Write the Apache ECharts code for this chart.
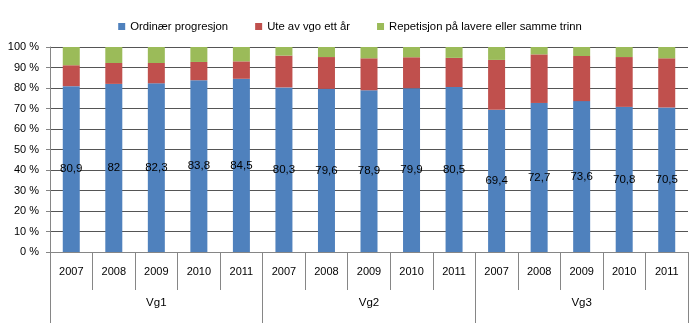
<!DOCTYPE html>
<html>
<head>
<meta charset="utf-8">
<script src="https://cdn.jsdelivr.net/npm/echarts@6/dist/echarts.min.js"></script>
<style>html,body{margin:0;padding:0;background:#fff;}#c{width:700px;height:324px;}</style>
</head>
<body>
<div id="c"></div>
<script>
var categories = ['2007','2008','2009','2010','2011','2007','2008','2009','2010','2011','2007','2008','2009','2010','2011'];
var groups = ['Vg1','Vg2','Vg3'];
var seriesNames = ['Ordinær progresjon','Ute av vgo ett år','Repetisjon på lavere eller samme trinn'];
var ordinaer = [80.9,82,82.3,83.8,84.5,80.3,79.6,78.9,79.9,80.5,69.4,72.7,73.6,70.8,70.5];
var ute = [10.2,10.2,9.9,8.9,8.5,15.5,15.5,15.6,15.1,14.2,24.3,23.7,22.0,24.3,24.0];
var repetisjon = [8.9,7.8,7.8,7.3,7.0,4.2,4.9,5.5,5.0,5.3,6.3,3.6,4.4,4.9,5.5];
var yTicks = [0,10,20,30,40,50,60,70,80,90,100];

var FONT = '"Liberation Sans Narrow", "Arial Narrow", "Liberation Sans", sans-serif';
var chart = echarts.init(document.getElementById('c'), null, {renderer:'canvas'});
var colors = ['#4F81BD','#C0504D','#9BBB59'];
chart.setOption({
  animation:false,
  color: colors,
  textStyle:{fontFamily:FONT},
  legend:{
    top:16, left:'center', itemWidth:7, itemHeight:7, itemGap:27,
    icon:'rect',
    textStyle:{fontFamily:FONT, fontSize:11.3, color:'#000'},
    data: seriesNames
  },
  grid:{left:50, right:12, top:47, bottom:72, containLabel:false},
  xAxis:[{
    type:'category', data:categories, position:'bottom',
    axisLine:{show:true, lineStyle:{color:'#868686'}},
    axisTick:{show:true, length:38, interval:0, lineStyle:{color:'#868686'}},
    axisLabel:{interval:0, margin:14, color:'#000', fontSize:11, fontFamily:FONT}
  },{
    type:'category', data:groups, position:'bottom', offset:38,
    axisLine:{show:false},
    axisTick:{show:true, length:33, interval:0, lineStyle:{color:'#868686'}},
    axisLabel:{interval:0, margin:7, color:'#000', fontSize:11.5, fontFamily:FONT}
  }],
  yAxis:{
    type:'value', min:yTicks[0], max:yTicks[yTicks.length-1], interval:10,
    axisLine:{show:true, lineStyle:{color:'#868686'}},
    axisTick:{show:true, length:4, inside:false, lineStyle:{color:'#868686'}},
    axisLabel:{formatter:'{value} %', margin:11, color:'#000', fontSize:11, fontFamily:FONT},
    splitLine:{show:true, lineStyle:{color:'#555', width:1}}
  },
  series:[{
    name:seriesNames[0], type:'bar', stack:'s', data:ordinaer, barWidth:17,
    itemStyle:{color:colors[0]},
    label:{show:true, position:'inside', color:'#000', fontSize:11.5, fontFamily:FONT,
      formatter:function(p){return String(p.value).replace('.',',');}}
  },{
    name:seriesNames[1], type:'bar', stack:'s', data:ute, barWidth:17,
    itemStyle:{color:colors[1]}
  },{
    name:seriesNames[2], type:'bar', stack:'s', data:repetisjon, barWidth:17,
    itemStyle:{color:colors[2]}
  }]
});
</script>
</body>
</html>
